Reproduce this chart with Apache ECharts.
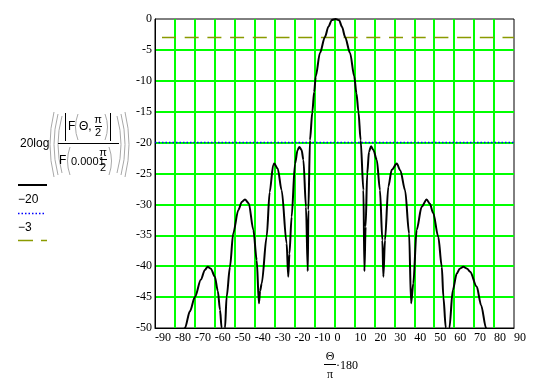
<!DOCTYPE html>
<html><head><meta charset="utf-8">
<script src="https://cdn.jsdelivr.net/npm/echarts@6/dist/echarts.min.js"></script>
<style>html,body{margin:0;padding:0;background:#fff}#c{width:541px;height:384px}</style>
</head><body><div id="c"></div>
<script>
// Pattern: angle (deg) and level (dB)
const angleDeg = [-80, -75, -72.5, -70, -67, -65, -63.6, -62, -60, -58.5, -57.4, -56.6, -55.8, -54.9, -54.1, -52.4, -50.8, -48.2, -46.5, -44.9, -43, -40.7, -39, -37.9, -37.3, -36.5, -34, -32.5, -30.7, -30.2, -28.5, -26.5, -24, -23.2, -22.6, -21.5, -19.8, -18.5, -17.6, -16.5, -15.6, -14.3, -13.4, -13.1, -12.3, -11.1, -10.2, -9.4, -7.3, -4.8, -3, -1.3, 0.5, 2.3, 3.8, 5.3, 7.8, 9.9, 11, 12, 13.1, 14.5, 15, 15.6, 16.4, 17.3, 18.3, 19.5, 21.2, 22.8, 24, 24.5, 25.3, 27, 28.7, 31.2, 33, 35.4, 37.4, 38.4, 39.5, 41.2, 43.7, 46.2, 47.8, 49.5, 52, 53.8, 54.6, 55.8, 56.7, 57.6, 59.3, 61.3, 62.8, 64.6, 66.5, 68, 71.3, 73.5, 76, 80];
const levelDb = [-56, -50, -47.3, -45, -42.2, -40.6, -40.1, -40.4, -41.7, -44, -47.1, -50, -56, -50, -45, -40.1, -34.7, -30.9, -29.6, -29.2, -29.8, -34.1, -39, -46, -44, -42.8, -35.2, -28, -23.6, -23.4, -24.2, -27.7, -36.3, -41.7, -38, -32, -23.4, -21.2, -20.7, -21.2, -22.8, -30.4, -40.8, -30.9, -19.6, -15, -11.8, -9.3, -5.5, -2.9, -1.2, -0.15, 0, -0.2, -1.3, -2.9, -5.5, -9.3, -12, -15, -19.6, -27.7, -40.8, -33.6, -25, -21.5, -20.6, -21.2, -22.8, -27.7, -35.8, -41.7, -35.8, -27.1, -24.4, -23.4, -24.5, -27.7, -34.7, -46, -42.8, -34.1, -30.4, -29.2, -29.9, -31.4, -35.2, -40.1, -45, -50, -56, -50, -43.9, -41.2, -40.4, -40.1, -40.4, -40.9, -43.3, -46.3, -50, -56];
const refLevels = [-20, -3];
const refLabels = ['\u221220', '\u22123'];
const xRange = [-90, 90];
const yRange = [-50, 0];

const chart = echarts.init(document.getElementById('c'), null, {renderer: 'canvas'});
const serif = 'Liberation Serif';
const sans = 'Liberation Sans';
const gray = '#a8a8a8';

function txt(x, y, s, opt) {
  opt = opt || {};
  return {type: 'text', x: x, y: y, silent: true, style: {text: s, fontSize: opt.size || 12, fontFamily: opt.font || sans,
    fill: opt.color || '#000', textAlign: opt.align || 'left', textVerticalAlign: 'middle'}};
}
function ln(x1, y1, x2, y2, opt) {
  opt = opt || {};
  return {type: 'line', silent: true, shape: {x1, y1, x2, y2}, style: {stroke: opt.color || '#000', lineWidth: opt.w || 1, lineDash: opt.dash || null}};
}
function paren(xEnd, xBulge, yTop, yBot) {
  return {type: 'bezierCurve', silent: true, shape: {x1: xEnd, y1: yTop, x2: xEnd, y2: yBot, cpx1: xBulge, cpy1: (yTop + yBot) / 2},
    style: {stroke: gray, lineWidth: 1, fill: null}};
}

const graphics = [
  // y-axis title expression
  txt(20, 144, '20log'),
  paren(54, 46, 112, 177), paren(58, 50, 114, 175), paren(62, 54, 116, 173),
  paren(117, 125, 116, 173), paren(121, 129, 114, 175), paren(125, 133, 112, 177),
  ln(58, 143.5, 119, 143.5),
  ln(65.5, 113, 65.5, 141), ln(110.5, 113, 110.5, 141),
  txt(68, 127, 'F'),
  paren(78, 73, 114, 140), paren(105, 110, 114, 140),
  txt(79, 127, '\u0398,'),
  txt(98, 120, '\u03c0', {size: 11, align: 'center'}), ln(95, 126.5, 102, 126.5), txt(98, 133, '2', {size: 11, align: 'center'}),
  txt(59, 161, 'F'),
  paren(70, 65, 147, 175), paren(109, 114, 147, 175),
  txt(71, 162, '0.0001', {size: 11}),
  txt(103, 153, '\u03c0', {size: 11, align: 'center'}), ln(100, 159.5, 107, 159.5), txt(103, 168, '2', {size: 11, align: 'center'}),
  // legend
  ln(18, 185, 47, 185, {w: 2}),
  txt(18, 200, refLabels[0]),
  ln(18, 213.5, 44, 213.5, {color: '#0000ff', w: 1.5, dash: [1.5, 2]}),
  txt(18, 228, refLabels[1]),
  ln(18, 240.5, 47, 240.5, {color: '#8a9a00', w: 1.5, dash: [15, 8]}),
  // x-axis title
  txt(330, 357, '\u0398', {font: serif, align: 'center'}),
  ln(324, 364.5, 336, 364.5),
  txt(330, 375, '\u03c0', {font: serif, align: 'center'}),
  txt(336, 366, '\u00b7180', {font: serif})
];

chart.setOption({
  animation: false,
  grid: {left: 155, top: 19, width: 359, height: 309, show: true, borderColor: '#000', borderWidth: 1, containLabel: false},
  xAxis: {
    type: 'value', min: xRange[0], max: xRange[1], interval: 10,
    axisLine: {show: true, onZero: false, lineStyle: {color: '#000', width: 1}},
    axisTick: {show: false},
    axisLabel: {color: '#000', fontFamily: serif, fontSize: 12, margin: 4, align: 'left', padding: [0, 0, 0, 0]},
    splitLine: {show: true, showMinLine: false, showMaxLine: false, lineStyle: {color: '#00ff00', width: 2}}
  },
  yAxis: {
    type: 'value', min: yRange[0], max: yRange[1], interval: 5,
    axisLine: {show: true, onZero: false, lineStyle: {color: '#000', width: 1}},
    axisTick: {show: false},
    axisLabel: {color: '#000', fontFamily: serif, fontSize: 12, margin: 3},
    splitLine: {show: true, showMinLine: false, showMaxLine: false, lineStyle: {color: '#00ff00', width: 2}}
  },
  series: [
    {type: 'line', data: xRange.map(x => [x, refLevels[0]]), showSymbol: false, silent: true, z: 3,
      lineStyle: {color: '#0000ff', width: 1.5, type: [1.5, 2]}},
    {type: 'line', data: xRange.map(x => [x, refLevels[1]]), showSymbol: false, silent: true, z: 3,
      lineStyle: {color: '#8a9a00', width: 1.5, type: [14, 8.7], dashOffset: 15.7}},
    {type: 'line', data: angleDeg.map((a, i) => [a, levelDb[i]]), showSymbol: false, silent: true, clip: true, z: 4,
      smooth: 0.3, smoothMonotone: 'x',
      lineStyle: {color: '#000', width: 2, join: 'round'}}
  ],
  graphic: graphics
});
</script>
</body></html>
